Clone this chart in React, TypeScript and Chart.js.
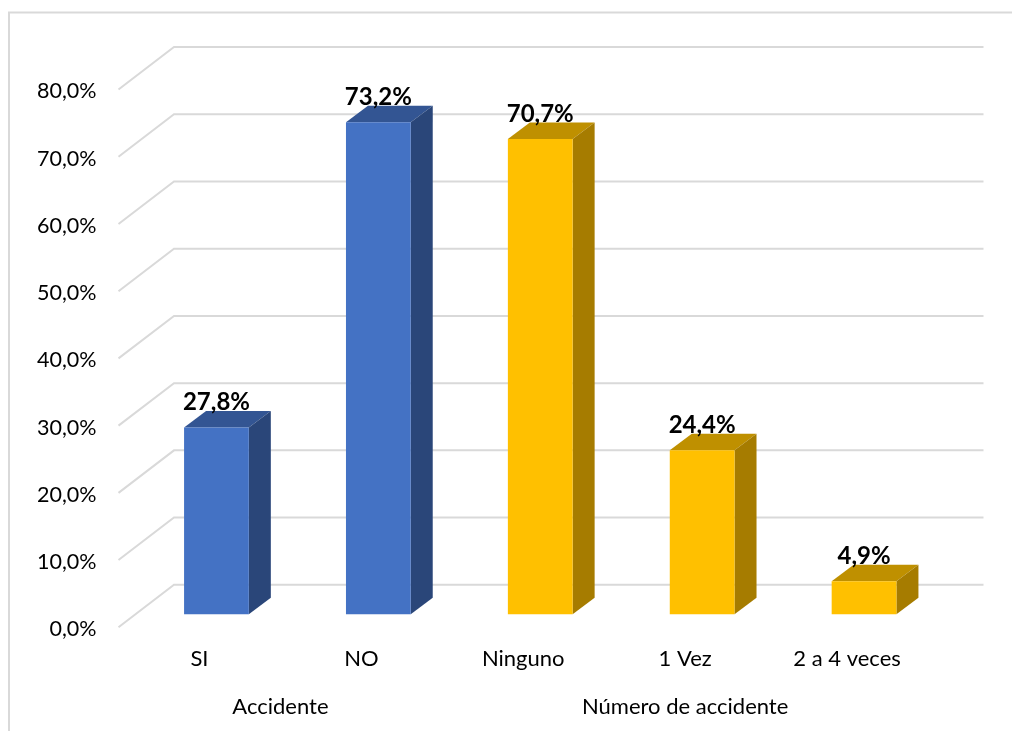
import React, { useEffect, useRef } from "react";
import { Chart, registerables } from "chart.js";

Chart.register(...registerables);

const categories = ["SI", "NO", "Ninguno", "1 Vez", "2 a 4 veces"];
const values = [27.8, 73.2, 70.7, 24.4, 4.9];
const groupLabels = ["Accidente", "Número de accidente"];
const groupCenters = [1, 3.5];
const frontColors = ["#4472C4", "#4472C4", "#FFC000", "#FFC000", "#FFC000"];
const topColors = ["#335593", "#335593", "#BF9000", "#BF9000", "#BF9000"];
const sideColors = ["#2A4679", "#2A4679", "#A67C00", "#A67C00", "#A67C00"];

const FONT = "Lato";
const AXIS_SIZE = 21.5;
const CATEGORY_SIZE = 22;
const GRID = "#D9D9D9";
const WALL = { dx: 55.5, dy: -42.5 };
const BAR_SHIFT = { dx: 17, dy: -13 };
const BAR_DEPTH = { dx: 22, dy: -16.5 };

const fmt = (v: number) => v.toFixed(1).replace(".", ",") + "%";

// Pseudo-3D drawing: walls, frame, extruded bar faces and value labels.
const extrusion = {
  id: "extrusion",
  beforeDatasetsDraw(chart: any) {
    const { ctx, scales, chartArea } = chart;
    ctx.save();
    ctx.strokeStyle = GRID;
    ctx.lineWidth = 2;
    ctx.beginPath();
    ctx.moveTo(9, 731);
    ctx.lineTo(9, 12.5);
    ctx.lineTo(1012, 12.5);
    ctx.stroke();

    for (const tick of scales.y.ticks) {
      const y = scales.y.getPixelForValue(tick.value);
      ctx.beginPath();
      ctx.moveTo(chartArea.left, y);
      ctx.lineTo(chartArea.left + WALL.dx, y + WALL.dy);
      ctx.lineTo(chartArea.right + WALL.dx, y + WALL.dy);
      ctx.stroke();
    }
    ctx.restore();

    ctx.save();
    ctx.translate(BAR_SHIFT.dx, BAR_SHIFT.dy);
    chart.getDatasetMeta(0).data.forEach((bar: any, i: number) => {
      const half = bar.width / 2;
      const l = bar.x - half;
      const r = bar.x + half;
      ctx.fillStyle = topColors[i];
      ctx.beginPath();
      ctx.moveTo(l, bar.y);
      ctx.lineTo(l + BAR_DEPTH.dx, bar.y + BAR_DEPTH.dy);
      ctx.lineTo(r + BAR_DEPTH.dx, bar.y + BAR_DEPTH.dy);
      ctx.lineTo(r, bar.y);
      ctx.closePath();
      ctx.fill();
      ctx.fillStyle = sideColors[i];
      ctx.beginPath();
      ctx.moveTo(r, bar.y);
      ctx.lineTo(r + BAR_DEPTH.dx, bar.y + BAR_DEPTH.dy);
      ctx.lineTo(r + BAR_DEPTH.dx, bar.base + BAR_DEPTH.dy);
      ctx.lineTo(r, bar.base);
      ctx.closePath();
      ctx.fill();
    });
  },
  afterDatasetsDraw(chart: any) {
    const { ctx } = chart;
    ctx.restore();
    ctx.save();
    ctx.fillStyle = "#000000";
    ctx.font = `bold 24px ${FONT}`;
    ctx.textAlign = "center";
    ctx.textBaseline = "alphabetic";
    chart.getDatasetMeta(0).data.forEach((bar: any, i: number) => {
      ctx.fillText(fmt(values[i]), bar.x + BAR_SHIFT.dx, bar.y + BAR_SHIFT.dy - 17.5);
    });
    ctx.restore();
  },
};

export default function App() {
  const canvasRef = useRef<HTMLCanvasElement>(null);

  useEffect(() => {
    const chart = new Chart(canvasRef.current!, {
      type: "bar",
      data: {
        labels: categories,
        datasets: [
          {
            data: values,
            backgroundColor: frontColors,
            barPercentage: 1,
            categoryPercentage: 0.4,
            clip: false,
          },
        ],
      },
      plugins: [extrusion],
      options: {
        animation: false,
        responsive: false,
        layout: { padding: { top: 89.5, right: 84, left: 0, bottom: 0 } },
        plugins: { legend: { display: false }, tooltip: { enabled: false } },
        scales: {
          x: {
            position: "bottom",
            grid: { display: false },
            border: { display: false },
            afterFit: (s: any) => {
              s.height = 50;
            },
            ticks: {
              maxRotation: 0,
              autoSkip: false,
              padding: 10,
              color: "#000000",
              font: { family: FONT, size: CATEGORY_SIZE },
            },
          },
          groups: {
            type: "linear",
            position: "bottom",
            offset: false,
            min: 0,
            max: 5,
            grid: { display: false },
            border: { display: false },
            afterFit: (s: any) => {
              s.height = 53.7;
            },
            afterBuildTicks: (s: any) => {
              s.ticks = groupCenters.map((value) => ({ value }));
            },
            ticks: {
              maxRotation: 0,
              autoSkip: false,
              padding: 8,
              color: "#000000",
              font: { family: FONT, size: CATEGORY_SIZE },
              callback: (v: any) => groupLabels[groupCenters.indexOf(Number(v))],
            },
          },
          y: {
            min: 0,
            max: 80,
            grid: { display: false },
            border: { display: false },
            afterFit: (s: any) => {
              s.width = 118.5;
            },
            ticks: {
              stepSize: 10,
              padding: 14,
              labelOffset: 2,
              color: "#000000",
              font: { family: FONT, size: AXIS_SIZE },
              callback: (v: any) => fmt(Number(v)),
            },
          },
        },
      },
    } as any);
    return () => chart.destroy();
  }, []);

  return (
    <div style={{ position: "fixed", left: 0, top: 0, width: 1012, height: 731, background: "#fff" }}>
      <canvas ref={canvasRef} width={1012} height={731} style={{ display: "block" }} />
    </div>
  );
}
